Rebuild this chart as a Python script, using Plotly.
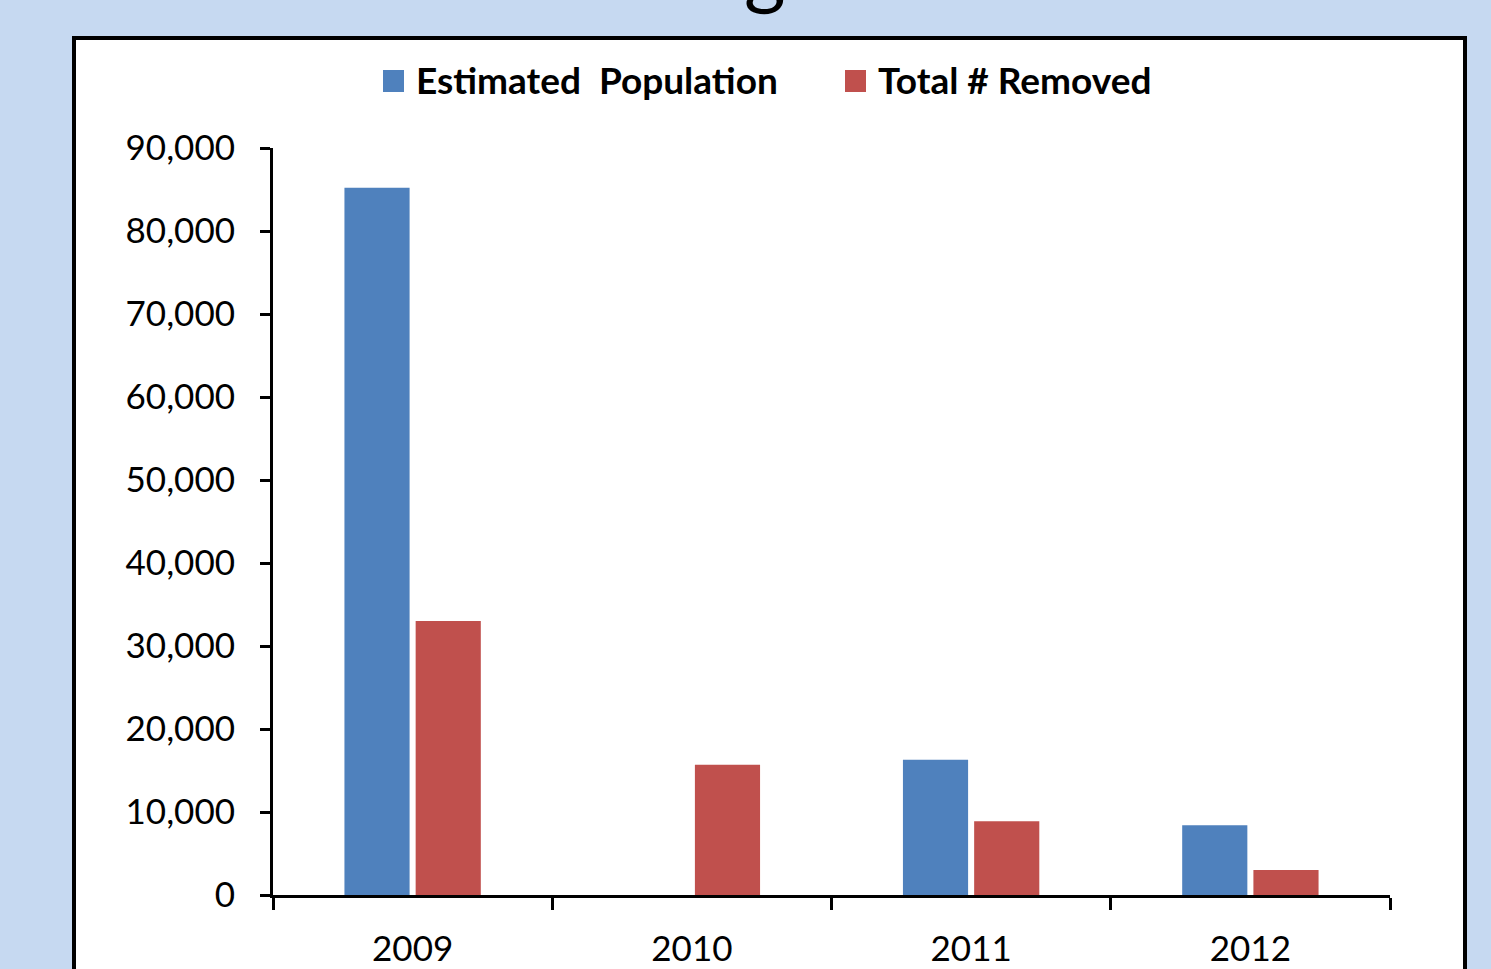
import plotly.graph_objects as go

years = ["2009", "2010", "2011", "2012"]
estimated_population = [85200, None, 16300, 8400]
total_removed = [33000, 15700, 8900, 3000]
series_names = ["Estimated  Population", "Total # Removed"]
series_colors = ["#4f81bd", "#c0504d"]
y_ticks = [0, 10000, 20000, 30000, 40000, 50000, 60000, 70000, 80000, 90000]
y_tick_labels = ["0", "10,000", "20,000", "30,000", "40,000", "50,000",
                 "60,000", "70,000", "80,000", "90,000"]

FONT = "Lato"
W, H = 1491, 969
L, R, T, B = 273, 101, 148, 74
pw, ph = W - L - R, H - T - B

def px_x(x):
    return (x - L) / pw

def px_y(y):
    return (H - B - y) / ph

fig = go.Figure()
for name, vals, col in zip(series_names, [estimated_population, total_removed], series_colors):
    fig.add_trace(go.Bar(name=name, x=years, y=vals, showlegend=False,
                         marker=dict(color=col, line=dict(width=0))))

# white framed box behind the chart
fig.add_shape(type="rect", xref="paper", yref="paper", layer="below",
              x0=px_x(74), x1=px_x(1465), y0=px_y(1000), y1=px_y(38),
              fillcolor="white", line=dict(color="black", width=4))

# cut-off slide title (only the descender is visible)
fig.add_annotation(xref="paper", yref="paper", x=px_x(765), y=px_y(-32),
                   text="g", showarrow=False, yanchor="middle", xanchor="center",
                   font=dict(family=FONT, size=80, color="black"))

# legend drawn at the top of the box
legend_sq_x = [383, 845]
for name, col, sx in zip(series_names, series_colors, legend_sq_x):
    fig.add_shape(type="rect", xref="paper", yref="paper",
                  x0=px_x(sx), x1=px_x(sx + 21), y0=px_y(92), y1=px_y(70),
                  fillcolor=col, line=dict(width=0))
    fig.add_annotation(xref="paper", yref="paper", x=px_x(sx + 31), y=px_y(80),
                       text="<b>%s</b>" % name.replace("  ", "&nbsp; "),
                       showarrow=False, xanchor="left", yanchor="middle",
                       font=dict(family=FONT, size=37, color="black"))

fig.update_layout(
    width=W, height=H,
    margin=dict(l=L, r=R, t=T, b=B),
    paper_bgcolor="#c6d9f1",
    plot_bgcolor="white",
    barmode="group",
    bargap=0.49,
    bargroupgap=0.085,
    font=dict(family=FONT, size=35, color="black"),
    showlegend=False,
    xaxis=dict(type="category", showline=True, linecolor="black", linewidth=3,
               ticks="outside", tickson="boundaries", ticklen=12, tickwidth=3,
               tickcolor="black", showgrid=False, ticklabelstandoff=21,
               automargin=False,
               tickfont=dict(family=FONT, size=35, color="black")),
    yaxis=dict(range=[0, 90000], showline=True, linecolor="black", linewidth=3,
               ticks="outside", ticklen=10, tickwidth=3, tickcolor="black",
               tickvals=y_ticks, ticktext=y_tick_labels, showgrid=False,
               zeroline=False, ticklabelstandoff=18, automargin=False,
               tickfont=dict(family=FONT, size=35, color="black")),
)

fig.write_html("out.html")
